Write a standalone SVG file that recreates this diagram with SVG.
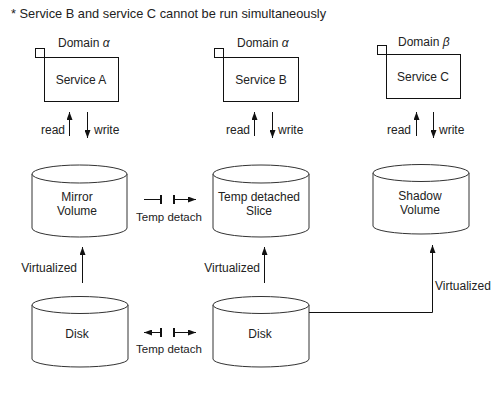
<svg xmlns="http://www.w3.org/2000/svg" width="500" height="400" viewBox="0 0 500 400">
<style>
text{font-family:"Liberation Sans",Arial,sans-serif;font-size:12px;fill:#222}
.c{text-anchor:middle}
.e{text-anchor:end}
.box{fill:#fff;stroke:#111;stroke-width:1}
.cyl{fill:#fff;stroke:#333;stroke-width:1}
.ln{fill:none;stroke:#111;stroke-width:1}
.bar{stroke:#111;stroke-width:2}
.ti{font-size:11.5px}
</style>
<defs>
<marker id="ah" viewBox="0 0 8 6" refX="8" refY="3" markerWidth="8" markerHeight="6" markerUnits="userSpaceOnUse" orient="auto">
<path d="M0,0 L8,3 L0,6 z" fill="#111"/>
</marker>
</defs>
<rect width="500" height="400" fill="#fff"/>
<text x="11" y="18" style="font-size:12.8px">* Service B and service C cannot be run simultaneously</text>

<g id="serviceA">
<rect class="box" x="35.5" y="48.5" width="9" height="9"/>
<rect class="box" x="44.5" y="57.5" width="74" height="44"/>
<text x="58" y="47">Domain <tspan font-style="italic">α</tspan></text>
<text class="c" x="81" y="84">Service A</text>
</g>
<g id="serviceB">
<rect class="box" x="214.5" y="48.5" width="9" height="9"/>
<rect class="box" x="223.5" y="57.5" width="75" height="44"/>
<text x="237" y="47">Domain <tspan font-style="italic">α</tspan></text>
<text class="c" x="261" y="84">Service B</text>
</g>
<g id="serviceC">
<rect class="box" x="377.5" y="45.5" width="9" height="9"/>
<rect class="box" x="386.5" y="54.5" width="74" height="44"/>
<text x="398" y="46">Domain <tspan font-style="italic">β</tspan></text>
<text class="c" x="423" y="81">Service C</text>
</g>

<g id="mirrorVolume">
<path class="cyl" d="M32,174 L32,228 A47.5,9 0 0,0 127,228 L127,174"/>
<ellipse class="cyl" cx="79.5" cy="174" rx="47.5" ry="9"/>
<text class="c" x="77" y="201">Mirror</text>
<text class="c" x="77" y="215">Volume</text>
</g>
<g id="tempSlice">
<path class="cyl" d="M213,174 L213,228 A48,9 0 0,0 309,228 L309,174"/>
<ellipse class="cyl" cx="261" cy="174" rx="48" ry="9"/>
<text class="c" x="259" y="201">Temp detached</text>
<text class="c" x="259" y="215">Slice</text>
</g>
<g id="shadowVolume">
<path class="cyl" d="M373,173 L373,226 A48,8 0 0,0 469,226 L469,173"/>
<ellipse class="cyl" cx="421" cy="173" rx="48" ry="8.5"/>
<text class="c" x="420" y="200">Shadow</text>
<text class="c" x="420" y="214">Volume</text>
</g>
<g id="disk1">
<path class="cyl" d="M32,305 L32,359 A48,8 0 0,0 128,359 L128,305"/>
<ellipse class="cyl" cx="80" cy="305" rx="48" ry="8.5"/>
<text class="c" x="77" y="338">Disk</text>
</g>
<g id="disk2">
<path class="cyl" d="M213,305 L213,359 A48,8 0 0,0 309,359 L309,305"/>
<ellipse class="cyl" cx="261" cy="305" rx="48" ry="8.5"/>
<text class="c" x="260" y="338">Disk</text>
</g>

<g id="connectors">
<line class="ln" x1="69.5" y1="136" x2="69.5" y2="112" marker-end="url(#ah)"/>
<line class="ln" x1="87.5" y1="112" x2="87.5" y2="138" marker-end="url(#ah)"/>
<text class="e" x="65" y="134">read</text>
<text x="94" y="134">write</text>

<line class="ln" x1="254.5" y1="136" x2="254.5" y2="112" marker-end="url(#ah)"/>
<line class="ln" x1="272.5" y1="112" x2="272.5" y2="138" marker-end="url(#ah)"/>
<text class="e" x="250" y="134">read</text>
<text x="278" y="134">write</text>

<line class="ln" x1="416.5" y1="136" x2="416.5" y2="112" marker-end="url(#ah)"/>
<line class="ln" x1="433.5" y1="112" x2="433.5" y2="138" marker-end="url(#ah)"/>
<text class="e" x="411" y="134">read</text>
<text x="439" y="134">write</text>

<line class="ln" x1="82.5" y1="283" x2="82.5" y2="247" marker-end="url(#ah)"/>
<text class="e" x="77" y="272">Virtualized</text>
<line class="ln" x1="264.5" y1="283" x2="264.5" y2="247" marker-end="url(#ah)"/>
<text class="e" x="260" y="272">Virtualized</text>
<path class="ln" d="M309,312.5 L432.5,312.5 L432.5,245" marker-end="url(#ah)"/>
<text x="435" y="290">Virtualized</text>

<line class="ln" x1="144" y1="199.5" x2="160" y2="199.5"/>
<line class="bar" x1="161" y1="195" x2="161" y2="204"/>
<line class="bar" x1="174" y1="195" x2="174" y2="204"/>
<line class="ln" x1="174" y1="199.5" x2="196" y2="199.5" marker-end="url(#ah)"/>
<text class="c ti" x="169" y="221">Temp detach</text>

<line class="ln" x1="160" y1="332.5" x2="144" y2="332.5" marker-end="url(#ah)"/>
<line class="bar" x1="161" y1="328" x2="161" y2="337"/>
<line class="bar" x1="174" y1="328" x2="174" y2="337"/>
<line class="ln" x1="174" y1="332.5" x2="196" y2="332.5" marker-end="url(#ah)"/>
<text class="c ti" x="169" y="353">Temp detach</text>
</g>
</svg>
